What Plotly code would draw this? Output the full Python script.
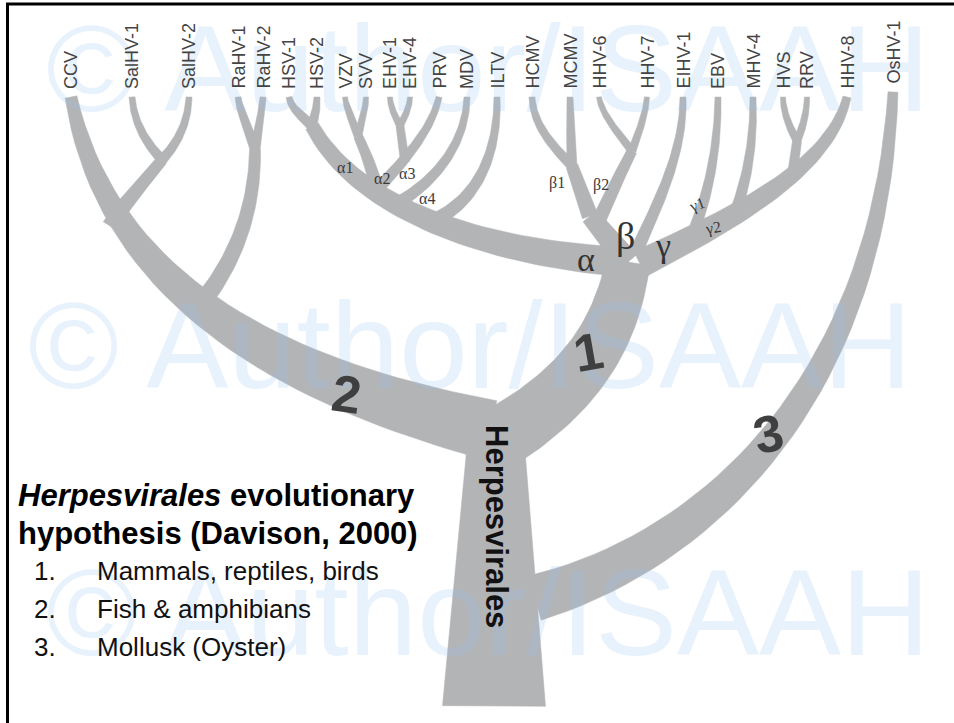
import numpy as np
import plotly.graph_objects as go

W, H = 954, 723

# ---- taxa (tip labels) -------------------------------------------------
TAXA = ["CCV", "SalHV-1", "SalHV-2", "RaHV-1", "RaHV-2", "HSV-1", "HSV-2",
        "VZV", "SVV", "EHV-1", "EHV-4", "PRV", "MDV", "ILTV", "HCMV", "MCMV",
        "HHV-6", "HHV-7", "EIHV-1", "EBV", "MHV-4", "HVS", "RRV", "HHV-8",
        "OsHV-1"]
TIP_X = [71, 132, 189, 238, 263, 289, 317, 345, 366, 390, 410, 439, 467, 497,
         532, 570, 599, 647, 683, 718, 753, 783, 807, 847, 893]
TIP_Y = [97] * 24 + [92]
LABEL_BOTTOM = [91] * 24 + [86]

TIP = {n: (x, y) for n, x, y in zip(TAXA, TIP_X, TIP_Y)}

# ---- internal nodes ----------------------------------------------------
NODE = {
    "root": (494, 706), "trunk_top": (496, 425),
    "b2s": (490, 430), "b1s": (500, 438), "b3s": (535, 598),
    "core": (628, 262),
    "ra": (200, 305), "ra_j": (255, 150),
    "sal": (110, 226), "sal_j": (162, 160),
    "hsv_j": (312, 126),
    "a2": (378, 190), "vz_j": (358, 136), "a2b": (375, 192), "ehv_b": (405, 162),
    "ehv_j": (400, 126), "mdv": (398, 203), "iltv": (435, 220),
    "beta_j": (590, 216), "b1_j": (572, 166), "b2_b": (598, 222), "b2_j": (632, 151),
    "eihv": (636, 252), "gam": (640, 264), "ebv": (688, 245), "mhv": (732, 222),
    "rh": (792, 178), "rh_j": (797, 141),
}


def P(k):
    return TIP[k] if k in TIP else NODE[k]


# edges: start, end, control1, control2 (None = straight), width start, width end
EDGES = [
    ("root", "trunk_top", None, None, 103, 54),
    ("b2s", "CCV", (300, 386), (110, 300), 60, 12),
    ("b1s", "core", (575, 393), (615, 340), 62, 44),
    ("b3s", "OsHV-1", (715, 548), (880, 380), 46, 10),
    ("ra", "ra_j", (235, 262), (255, 210), 18, 11),
    ("ra_j", "RaHV-1", (250, 130), (240, 115), 10, 6),
    ("ra_j", "RaHV-2", (258, 130), (262, 115), 10, 6),
    ("sal", "sal_j", (130, 195), (150, 175), 16, 11),
    ("sal_j", "SalHV-1", (148, 145), (134, 125), 10, 6),
    ("sal_j", "SalHV-2", (176, 145), (188, 125), 10, 6),
    ("core", "hsv_j", (500, 255), (360, 215), 30, 14),
    ("hsv_j", "HSV-1", (300, 115), (291, 108), 10, 6),
    ("hsv_j", "HSV-2", (315, 115), (317, 108), 10, 6),
    ("a2", "vz_j", (372, 170), (365, 150), 13, 9),
    ("vz_j", "VZV", (352, 120), (346, 108), 8, 5),
    ("vz_j", "SVV", (362, 120), (366, 108), 8, 5),
    ("a2b", "PRV", (405, 160), (432, 130), 12, 6),
    ("ehv_b", "ehv_j", None, None, 9, 8),
    ("ehv_j", "EHV-1", (394, 115), (390, 105), 7, 5),
    ("ehv_j", "EHV-4", (406, 115), (410, 105), 7, 5),
    ("mdv", "MDV", (440, 178), (466, 140), 12, 6),
    ("iltv", "ILTV", (480, 198), (498, 150), 14, 6),
    ("core", "beta_j", None, None, 24, 18),
    ("beta_j", "b1_j", None, None, 16, 12),
    ("b1_j", "HCMV", (548, 142), (533, 122), 10, 6),
    ("b1_j", "MCMV", (571, 140), (570, 120), 10, 6),
    ("b2_b", "b2_j", (608, 200), (622, 170), 14, 10),
    ("b2_j", "HHV-6", (615, 130), (601, 112), 8, 5),
    ("b2_j", "HHV-7", (640, 130), (646, 112), 8, 5),
    ("eihv", "EIHV-1", (660, 200), (684, 150), 13, 6),
    ("gam", "HHV-8", (730, 220), (830, 170), 28, 8),
    ("ebv", "EBV", (708, 200), (718, 150), 12, 6),
    ("mhv", "MHV-4", (748, 180), (754, 140), 12, 6),
    ("rh", "rh_j", None, None, 10, 9),
    ("rh_j", "HVS", (788, 125), (783, 110), 8, 5),
    ("rh_j", "RRV", (804, 125), (807, 110), 8, 5),
]

# ---- text annotations on the tree --------------------------------------
GREEK_SMALL = ["α1", "α2", "α3", "α4", "β1", "β2", "γ1", "γ2"]
GREEK_SMALL_XY = [(345, 167), (382, 178), (407, 173), (427, 198),
                  (557, 183), (601, 185), (697, 205), (713, 228)]
GREEK_SMALL_ANGLE = [0, 0, 0, 0, 0, 0, -20, -10]
GREEK_BIG = ["α", "β", "γ"]
GREEK_BIG_XY = [(586, 259), (625, 236), (663, 245)]
GREEK_BIG_SIZE = [34, 38, 34]
CLADE_NUM = ["1", "2", "3"]
CLADE_XY = [(588, 352), (346, 394), (768, 434)]
CLADE_ANGLE = [-10, 8, -12]

TITLE_LINES = ["<b><i>Herpesvirales</i> evolutionary</b>",
               "<b>hypothesis (Davison, 2000)</b>"]
LIST_NUM = ["1.", "2.", "3."]
LIST_TEXT = ["Mammals, reptiles, birds", "Fish &amp; amphibians",
             "Mollusk (Oyster)"]

WATERMARK = "© Author/ISAAH"
WATERMARK_XY = [(488, 80), (470, 357), (488, 624)]

BRANCH_COLOR = "#b3b4b6"


def bez(p0, p1, p2, p3, n=40):
    t = np.linspace(0, 1, n)[:, None]
    p0, p1, p2, p3 = map(np.array, (p0, p1, p2, p3))
    pts = ((1 - t) ** 3) * p0 + 3 * ((1 - t) ** 2) * t * p1 + 3 * (1 - t) * t ** 2 * p2 + t ** 3 * p3
    d = 3 * ((1 - t) ** 2) * (p1 - p0) + 6 * (1 - t) * t * (p2 - p1) + 3 * t ** 2 * (p3 - p2)
    return pts, d, t[:, 0]


fig = go.Figure()

for s, e, c1, c2, w0, w1 in EDGES:
    p0, p3 = np.array(P(s), float), np.array(P(e), float)
    if c1 is None:
        c1 = p0 + (p3 - p0) / 3
        c2 = p0 + 2 * (p3 - p0) / 3
    pts, d, t = bez(p0, c1, c2, p3)
    nrm = np.stack([-d[:, 1], d[:, 0]], axis=1)
    nrm /= np.linalg.norm(nrm, axis=1, keepdims=True)
    w = (w0 + (w1 - w0) * t)[:, None] / 2
    left = pts + nrm * w
    right = pts - nrm * w
    poly = np.vstack([left, right[::-1], left[:1]])
    fig.add_trace(go.Scatter(x=poly[:, 0], y=poly[:, 1], mode="lines",
                             fill="toself", fillcolor=BRANCH_COLOR,
                             line=dict(width=0.5, color=BRANCH_COLOR),
                             hoverinfo="skip", showlegend=False))

# watermark (between branches and text)
fig.add_trace(go.Scatter(
    x=[p[0] for p in WATERMARK_XY], y=[p[1] for p in WATERMARK_XY],
    mode="text", text=[WATERMARK] * 3, textposition="middle center",
    textfont=dict(family="Liberation Sans, Arial", size=123,
                  color="rgba(150,195,240,0.22)"),
    hoverinfo="skip", showlegend=False))

ann = []
for name, x, yb in zip(TAXA, TIP_X, LABEL_BOTTOM):
    ann.append(dict(x=x, y=yb, text=name, textangle=-90, showarrow=False,
                    xanchor="center", yanchor="bottom",
                    font=dict(family="Liberation Sans, Arial", size=18, color="#444444")))
for txt, (x, y), a in zip(GREEK_SMALL, GREEK_SMALL_XY, GREEK_SMALL_ANGLE):
    ann.append(dict(x=x, y=y, text=txt, textangle=a, showarrow=False,
                    font=dict(family="Liberation Serif, Times New Roman", size=16, color="#3a3a3a")))
for txt, (x, y), sz in zip(GREEK_BIG, GREEK_BIG_XY, GREEK_BIG_SIZE):
    ann.append(dict(x=x, y=y, text=txt, showarrow=False,
                    font=dict(family="Liberation Serif, Times New Roman", size=sz, color="#333333")))
for txt, (x, y), a in zip(CLADE_NUM, CLADE_XY, CLADE_ANGLE):
    ann.append(dict(x=x, y=y, text="<b>" + txt + "</b>", textangle=a, showarrow=False,
                    font=dict(family="Liberation Sans, Arial", size=52, color="#3f3f3f")))

ann.append(dict(x=497, y=526, text="<b>Herpesvirales</b>", textangle=90, showarrow=False,
                font=dict(family="Liberation Sans, Arial", size=31, color="#111111")))

for i, line in enumerate(TITLE_LINES):
    ann.append(dict(x=16, y=495 + 38 * i, text=line, showarrow=False, xanchor="left",
                    font=dict(family="Liberation Sans, Arial", size=31, color="#000000")))
for i, (n, t) in enumerate(zip(LIST_NUM, LIST_TEXT)):
    y = 571 + 38 * i
    ann.append(dict(x=32, y=y, text=n, showarrow=False, xanchor="left",
                    font=dict(family="Liberation Sans, Arial", size=26, color="#111111")))
    ann.append(dict(x=95, y=y, text=t, showarrow=False, xanchor="left",
                    font=dict(family="Liberation Sans, Arial", size=26, color="#111111")))

shapes = [
    dict(type="line", x0=6, x1=W, y0=4, y1=4, line=dict(color="black", width=3)),
    dict(type="line", x0=7.5, x1=7.5, y0=3, y1=H, line=dict(color="black", width=3)),
]

fig.update_layout(
    width=W, height=H, margin=dict(l=0, r=0, t=0, b=0),
    paper_bgcolor="white", plot_bgcolor="white",
    xaxis=dict(range=[0, W], visible=False, fixedrange=True),
    yaxis=dict(range=[H, 0], visible=False, fixedrange=True),
    annotations=ann, shapes=shapes, showlegend=False,
)

fig.write_html("out.html", config={"displayModeBar": False},
               post_script="document.body.style.margin='0px';")
